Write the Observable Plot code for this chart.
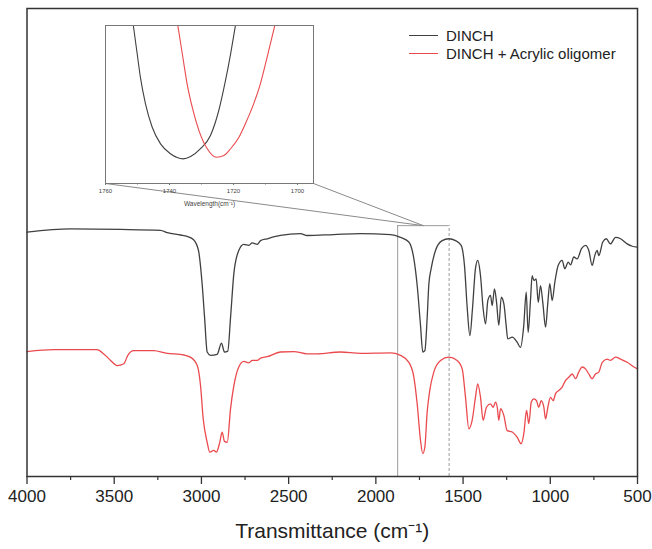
<!DOCTYPE html>
<html><head><meta charset="utf-8">
<script src="https://cdn.jsdelivr.net/npm/d3@7"></script>
<script src="https://cdn.jsdelivr.net/npm/@observablehq/plot@0.6"></script>
<style>
body{margin:0;background:#fff;font-family:"Liberation Sans",Arial,sans-serif;}
#wrap{position:relative;width:652px;height:549px;overflow:hidden;}
#main{position:absolute;left:0;top:0;}
#inset{position:absolute;}
#legend{position:absolute;left:409px;top:26px;font-size:15px;color:#222;}
.row{display:flex;align-items:center;height:18px;white-space:nowrap;}
.sw{width:29px;height:0;border-top:1.3px solid;margin-right:8px;}
</style></head><body>
<div id="wrap"><div id="main"></div><div id="inset"></div><div id="legend"></div></div>
<script>
// ---------- data ----------
const seriesNames = ["DINCH", "DINCH + Acrylic oligomer"];
const seriesColors = ["#404040", "#ea4a4e"];

const wnBlack = [4000,3751,3464,3235,3196,3120,3082,3045,3017,2996,2982,2967,2948,2910,2885,2868,2849,2833,2814,2786,2757,2728,2709,2680,2661,2623,2547,2432,2394,2243,2088,1916,1859,1811,1782,1763,1744,1731,1719,1706,1696,1683,1658,1620,1582,1543,1511,1492,1476,1461,1446,1429,1416,1400,1385,1371,1358,1343,1333,1320,1308,1295,1281,1266,1253,1244,1218,1190,1171,1152,1138,1127,1113,1104,1094,1081,1069,1056,1043,1027,1014,1003,989,974,955,932,917,897,884,865,846,821,798,779,760,745,731,722,699,679,655,626,597,559,530,502];
const tBlack = [52.2,52.9,52.8,52.6,52.1,51.6,51.3,50.6,48.3,41.2,34.0,26.6,25.9,26.1,28.5,26.6,26.8,34.0,43.4,48.3,49.6,49.4,49.9,49.6,50.4,50.8,51.5,51.9,51.5,51.7,51.9,51.7,51.1,50.1,46.5,40.8,32.3,26.6,26.9,33.8,41.2,44.4,48.3,50.4,50.8,50.4,49.4,45.1,35.9,30.1,35.9,44.4,46.2,42.9,35.9,32.6,37.6,38.7,36.5,40.1,37.2,32.3,38.3,36.9,32.3,29.4,29.8,28.7,27.6,32.3,39.4,30.8,38.0,42.9,41.9,42.2,37.2,40.8,37.2,31.9,37.2,41.2,37.6,41.5,45.1,46.2,44.4,45.8,45.2,46.9,46.5,48.7,49.4,48.3,45.1,47.2,48.3,47.2,50.1,50.8,49.7,51.1,50.8,49.7,49.2,49.0];

const wnRed = [4000,3846,3598,3560,3521,3483,3445,3422,3388,3273,3196,3120,3063,3024,3005,2990,2967,2952,2929,2914,2895,2881,2868,2852,2833,2814,2786,2757,2728,2709,2680,2661,2623,2547,2470,2394,2336,2203,2088,1916,1859,1811,1782,1763,1744,1731,1719,1706,1691,1668,1629,1582,1534,1505,1486,1467,1448,1429,1416,1400,1385,1366,1343,1327,1314,1304,1295,1285,1266,1247,1218,1190,1167,1152,1136,1123,1109,1094,1079,1066,1052,1037,1027,1014,999,983,970,951,932,913,894,874,855,837,817,798,779,760,741,722,702,674,655,626,597,559,521,500];
const tRed = [26.7,27.1,27.1,26.2,24.8,23.7,24.1,25.9,26.9,26.9,26.3,26.1,25.5,23.7,19.4,12.4,7.3,5.2,5.6,5.2,7.3,9.5,7.5,7.3,14.5,19.4,23.4,24.6,24.3,24.8,24.8,25.3,25.6,26.6,26.7,26.2,26.2,26.6,26.3,26.4,25.9,24.4,21.2,15.5,7.7,4.9,6.3,13.7,18.4,22.3,24.8,25.5,24.8,23.0,16.9,10.2,12.0,16.9,19.8,16.9,12.0,14.8,15.5,14.8,15.9,14.8,12.0,14.5,13.0,9.8,9.5,8.4,7.0,9.1,14.1,11.3,15.9,16.6,16.2,14.8,16.2,14.8,12.3,14.8,16.9,16.2,17.7,18.4,19.1,20.5,21.2,21.9,20.9,22.3,23.4,23.0,21.9,20.9,21.9,22.3,24.4,25.1,24.8,25.5,25.1,24.4,23.4,23.0];

const insetWnBlack = [1751.3,1750.1,1749.1,1747.5,1745.4,1742.8,1739.7,1735.7,1733.4,1730.3,1727.2,1724.6,1722.5,1720.9,1719.4];
const insetTBlack = [100,82.1,67.3,50.4,35.6,25.1,18.8,15.6,17.1,22.0,30.4,46.2,65.2,82.1,100];
const insetWnRed = [1737.4,1736.0,1734.5,1732.9,1730.8,1728.2,1725.3,1723.0,1720.9,1718.3,1716.3,1713.7,1711.6,1709.5,1707.1];
const insetTRed = [100,82.1,63.1,48.3,33.5,22.0,16.6,17.7,22.0,29.3,37.8,50.4,63.1,79.9,100];

const mainTicks = [4000,3500,3000,2500,2000,1500,1000,500];
const mainMinorTicks = [3750,3250,2750,2250,1750,1250,750];
const insetTicks = [1760,1740,1720,1700];
const insetMinorTicks = [1750,1730,1710];
const zoomRange = [1875, 1580];   // wavenumbers of the zoom window
const zoomTop = 53.6;             // top of the zoom window (y units)
const xLabel = "Transmittance (cm\u207B\u00B9)";
const insetLabel = "Wavelength(cm\u207B\u00B9)";

// ---------- layout ----------
const W = 652, H = 549, mL = 26.5, mR = 15, mT = 8, mB = 73;
const insetPx = {left: 105, top: 25, right: 313, bottom: 183};
const FONT = '"Liberation Sans", Arial, sans-serif';

const toRows = (wn, t) => wn.map((w, i) => ({wn: w, t: t[i]}));
const black = toRows(wnBlack, tBlack), red = toRows(wnRed, tRed);
const iBlack = toRows(insetWnBlack, insetTBlack), iRed = toRows(insetWnRed, insetTRed);

const xS = Plot.scale({x: {domain: [4000, 500], range: [mL, W - mR]}});
const yS = Plot.scale({y: {domain: [0, 100], range: [H - mB, mT]}});
const zCenter = (zoomRange[0] + zoomRange[1]) / 2;
const connectors = [
  {x1: xS.invert(insetPx.left), y1: yS.invert(insetPx.bottom), x2: zCenter, y2: zoomTop},
  {x1: xS.invert(insetPx.right), y1: yS.invert(insetPx.bottom), x2: zCenter, y2: zoomTop}
];

const main = Plot.plot({
  width: W, height: H,
  marginLeft: mL, marginRight: mR, marginTop: mT, marginBottom: mB,
  style: {fontFamily: FONT, background: "transparent", color: "#222"},
  x: {domain: [4000, 500]},
  y: {domain: [0, 100], axis: null},
  marks: [
    Plot.ruleX([zoomRange[0]], {y1: 0, y2: zoomTop, stroke: "#9c9c9c", strokeWidth: 1}),
    Plot.ruleX([zoomRange[1]], {y1: 0, y2: zoomTop, stroke: "#9c9c9c", strokeWidth: 1, strokeDasharray: "3,2"}),
    Plot.ruleY([zoomTop], {x1: zoomRange[0], x2: zoomRange[1], stroke: "#9c9c9c", strokeWidth: 1}),
    Plot.link(connectors, {x1: "x1", y1: "y1", x2: "x2", y2: "y2", stroke: "#8a8a8a", strokeWidth: 1}),
    Plot.line(black, {x: "wn", y: "t", stroke: seriesColors[0], strokeWidth: 1.3, curve: "monotone-x"}),
    Plot.line(red, {x: "wn", y: "t", stroke: seriesColors[1], strokeWidth: 1.3, curve: "monotone-x"}),
    Plot.frame({stroke: "#333", strokeWidth: 1.5}),
    Plot.axisX({ticks: mainTicks, tickSize: 8, tickPadding: 5, fontSize: 17, tickFormat: d => String(d), label: null, stroke: "#333", strokeWidth: 1.3}),
    Plot.axisX({ticks: mainMinorTicks, tickSize: 4, tickFormat: () => "", label: null, stroke: "#333", strokeWidth: 1.2}),
    Plot.text([xLabel], {frameAnchor: "bottom", dy: 61, fontSize: 21, fill: "#222"})
  ]
});
document.getElementById("main").appendChild(main);

const padX = 12, padTop = 1, padBottom = 28;
const inset = Plot.plot({
  width: insetPx.right - insetPx.left + 2 * padX,
  height: insetPx.bottom - insetPx.top + padTop + padBottom,
  marginLeft: padX, marginRight: padX, marginTop: padTop, marginBottom: padBottom,
  style: {fontFamily: FONT, background: "transparent", color: "#444"},
  x: {domain: [1760, 1695]},
  y: {domain: [0, 100], axis: null},
  marks: [
    Plot.line(iBlack, {x: "wn", y: "t", stroke: seriesColors[0], strokeWidth: 1.1, curve: "monotone-x"}),
    Plot.line(iRed, {x: "wn", y: "t", stroke: seriesColors[1], strokeWidth: 1.1, curve: "monotone-x"}),
    Plot.frame({stroke: "#777", strokeWidth: 1}),
    Plot.axisX({ticks: insetTicks, tickSize: 2, tickPadding: 3, fontSize: 6, tickFormat: d => String(d), label: null, stroke: "#777"}),
    Plot.axisX({ticks: insetMinorTicks, tickSize: 1.5, tickFormat: () => "", label: null, stroke: "#777"}),
    Plot.text([insetLabel], {frameAnchor: "bottom", dy: 22, fontSize: 6.5, fill: "#444"})
  ]
});
const insetDiv = document.getElementById("inset");
insetDiv.style.left = (insetPx.left - padX) + "px";
insetDiv.style.top = (insetPx.top - padTop) + "px";
insetDiv.appendChild(inset);

const legend = document.getElementById("legend");
seriesNames.forEach((name, i) => {
  const row = document.createElement("div");
  row.className = "row";
  const sw = document.createElement("span");
  sw.className = "sw";
  sw.style.borderTopColor = seriesColors[i];
  const tx = document.createElement("span");
  tx.textContent = name;
  row.appendChild(sw); row.appendChild(tx);
  legend.appendChild(row);
});
</script>
</body></html>
